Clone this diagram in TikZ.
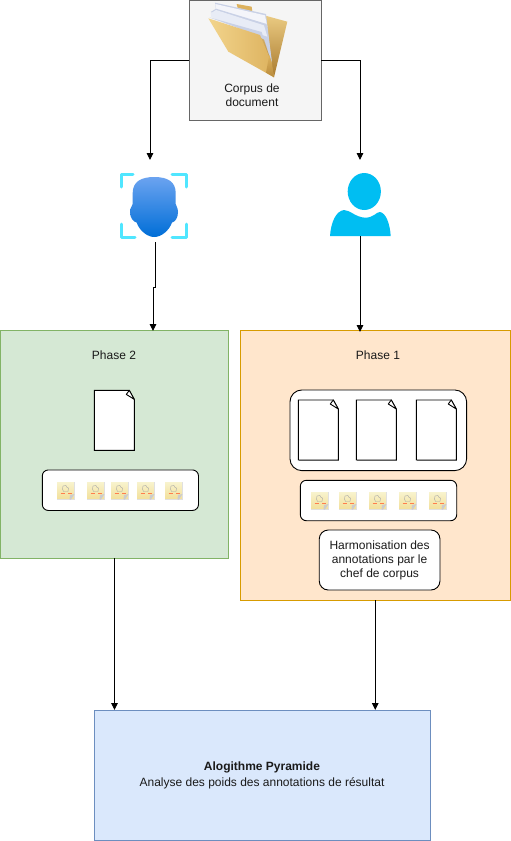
\documentclass[tikz,border=0pt]{standalone}
\usepackage{fontspec}
\setmainfont{Liberation Sans}
\usetikzlibrary{arrows.meta}
\definecolor{txt}{HTML}{1A1A1A}
\definecolor{cyanb}{HTML}{50E6FF}
\definecolor{personb}{HTML}{00BEF2}
\definecolor{greenfill}{HTML}{D5E8D4}
\definecolor{greenline}{HTML}{82B366}
\definecolor{orangefill}{HTML}{FFE6CC}
\definecolor{orangeline}{HTML}{D79B00}
\definecolor{bluefill}{HTML}{DAE8FC}
\definecolor{blueline}{HTML}{6C8EBF}
\definecolor{greyfill}{HTML}{F5F5F5}
\definecolor{greyline}{HTML}{666666}
\definecolor{notetop}{HTML}{F8F3CE}
\definecolor{notebot}{HTML}{F2DF98}
\definecolor{tanA}{HTML}{F2D48C}
\definecolor{tanB}{HTML}{DDB25E}
\definecolor{tanC}{HTML}{A97A2E}
\definecolor{pageA}{HTML}{E8ECF6}
\definecolor{pageB}{HTML}{C9D1E6}
\definecolor{pageC}{HTML}{F4F5FA}
\tikzset{
  x=1pt,y=-1pt,
  every node/.style={font=\fontsize{12}{14}\selectfont,text=txt,align=center,inner sep=0pt,outer sep=0pt},
  panel/.style={draw=#1,line width=0.9pt,rectangle},
  whitebox/.style={draw=black,fill=white,line width=0.9pt,rectangle,rounded corners=#1},
  conn/.style={draw=black,line width=0.9pt,-{Triangle[width=6.5pt,length=7pt]}},
  bracket/.style={cyanb,line width=3pt,line cap=round,line join=round},
}
% sheet of paper: top-left x, y
\newcommand{\sheet}[2]{%
  \begin{scope}[shift={(#1,#2)}]
    \draw[gray,line width=1pt] (40.6,10) -- (40.6,60.4) -- (1,60.4);
    \draw[black,line width=0.9pt,fill=white] (0,0) -- (35,0) -- (40,9) -- (40,60) -- (0,60) -- cycle;
    \draw[black,line width=0.9pt,fill=white,line join=round] (35,0) -- (40,9) -- (32,4) -- cycle;
  \end{scope}}
% sticky note: top-left x, y
\newcommand{\stickynote}[2]{%
  \begin{scope}[shift={(#1,#2)}]
    \fill[top color=notetop,bottom color=notebot] (0,0) rectangle (17.5,17.5);
    \draw[black!12,line width=0.4pt] (0,17.5) -- (17.5,17.5) -- (17.5,0);
    \fill[gray!40] (17.5,12) -- (14,17.5) -- (12.5,17.5) -- (13,13) -- cycle;
    \draw[gray!70,line width=0.4pt,line join=round] (6,4) -- (9,3.5) -- (10,5.5) -- (11.5,6) -- (11,9.5) -- (6.5,9.5) -- (5.5,7) -- cycle;
    \draw[red!45!orange!70!white,line width=0.5pt] (3.5,11.5) -- (8,11.5);
    \draw[red!45!orange!70!white,line width=0.5pt] (11,11) -- (15,11);
  \end{scope}}
\begin{document}
\begin{tikzpicture}
\useasboundingbox (0,0) rectangle (511,841);
\fill[white] (0,0) rectangle (511,841);

% main boxes
\node[panel=greyline,fill=greyfill,minimum width=132pt,minimum height=120pt] (corpus) at (255,60) {};
\node[panel=greenline,fill=greenfill,minimum width=228pt,minimum height=228pt] (phaseB) at (114.5,444) {};
\node[panel=orangeline,fill=orangefill,minimum width=270.5pt,minimum height=270pt] (phaseA) at (375.25,465) {};
\node[panel=blueline,fill=bluefill,minimum width=336pt,minimum height=130pt] (algo) at (262,775) {};

% folder, in the coordinates of a 3x view
\begin{scope}[shift={(180,0)},x=0.3333pt,y=-0.3333pt]
  \fill[tanB] (170,12) -- (215,20) -- (217,34) -- (174,28) -- cycle;
  \shade[top color=tanA,bottom color=tanC] (172,24) -- (322,65) -- (282,232) -- (262,160) -- (205,40) -- cycle;
  \fill[pageB] (105,8) -- (258,42) -- (276,190) -- (250,110) -- (108,30) -- cycle;
  \fill[pageC] (106,12) -- (255,46) -- (262,80) -- (108,28) -- cycle;
  \fill[pageB] (92,36) -- (108,26) -- (260,72) -- (276,190) -- (255,120) -- cycle;
  \fill[pageA] (92,40) -- (108,30) -- (252,76) -- (262,110) -- (94,52) -- cycle;
  \fill[pageB] (88,52) -- (245,96) -- (276,190) -- (250,112) -- cycle;
  \shade[left color=tanA,right color=tanB] (85,55) -- (240,105) -- (272,180) -- (282,232) -- (145,155) -- cycle;
  \shade[top color=tanB,bottom color=tanC!70!tanB] (268,165) -- (275,185) -- (282,232) -- (258,218) -- cycle;
\end{scope}

% labels
\node (corpusText) at (252,95) {Corpus de\\document};
\node (phaseBText) at (114,355) {Phase 2};
\node (phaseAText) at (378,355) {Phase 1};
\node (algoText) at (262,775) {\textbf{Alogithme Pyramide}\\[2pt]Analyse des poids des annotations de résultat};

% inner boxes
\node[whitebox=12pt,minimum width=176.7pt,minimum height=80.7pt] (docsA) at (378.3,430.3) {};
\node[whitebox=6pt,minimum width=156.2pt,minimum height=40.5pt] (notesB) at (120.4,490.2) {};
\node[whitebox=6pt,minimum width=156.4pt,minimum height=40.4pt] (notesA) at (378.5,500.5) {};
\node[whitebox=9pt,minimum width=120.7pt,minimum height=60pt] (harmon) at (379.6,560) {Harmonisation des\\annotations par le\\chef de corpus};

% sheets
\sheet{94.3}{390.4}
\sheet{298.3}{400}
\sheet{356.3}{400}
\sheet{416.3}{400}

% sticky notes
\stickynote{57}{482}
\stickynote{87}{482}
\stickynote{111}{482}
\stickynote{137}{482}
\stickynote{165}{482}
\stickynote{311}{492}
\stickynote{339}{492}
\stickynote{369}{492}
\stickynote{399}{492}
\stickynote{429}{492}

% face icon
\shade[top color={rgb,255:red,107;green,163;blue,240},bottom color={rgb,255:red,0;green,110;blue,215}]
  (154.3,177) .. controls (168,177) and (175.7,182) .. (175.7,193)
  -- (175.7,204) .. controls (175.7,206) and (178,207) .. (178,212)
  .. controls (178,218) and (175,222) .. (172,222.5)
  .. controls (169,231) and (161,237) .. (154.3,237)
  .. controls (147.6,237) and (139.6,231) .. (136.6,222.5)
  .. controls (133.5,222) and (130,218) .. (130,212)
  .. controls (130,207) and (132.7,206) .. (132.7,204)
  -- (132.7,193) .. controls (132.7,182) and (140.6,177) .. (154.3,177) -- cycle;
\draw[bracket] (133,174.5) -- (121.5,174.5) -- (121.5,187);
\draw[bracket] (172,174.5) -- (186.5,174.5) -- (186.5,187);
\draw[bracket] (121.5,224) -- (121.5,237.5) -- (135,237.5);
\draw[bracket] (186.5,224) -- (186.5,237.5) -- (172,237.5);
\coordinate (faceTop) at (150,160);
\coordinate (faceBottom) at (155,242);
\coordinate (phaseBTop) at (153,331);

% person icon
\fill[personb] (364.3,191.5) ellipse (16.6pt and 18.5pt);
\fill[personb] (330,236) .. controls (331,222) and (336,211) .. (344,210)
  .. controls (350,210) and (355,217) .. (365,217.7)
  .. controls (374,217.7) and (376,212) .. (380,212)
  .. controls (386,213) and (390,224) .. (390.7,236) -- cycle;
\coordinate (personTop) at (360,160);
\coordinate (personBottom) at (360,236);
\coordinate (phaseATop) at (360,332);

% connectors
\draw[conn] (corpus.west) -| (faceTop);
\draw[conn] (corpus.east) -| (personTop);
\draw[conn] (faceBottom) -- (155,287) -- (153,287) -- (phaseBTop);
\draw[conn] (personBottom) -- (phaseATop);
\draw[conn] (phaseB.south) -- (phaseB.south |- algo.north);
\draw[conn] (phaseA.south) -- (phaseA.south |- algo.north);
\end{tikzpicture}
\end{document}
